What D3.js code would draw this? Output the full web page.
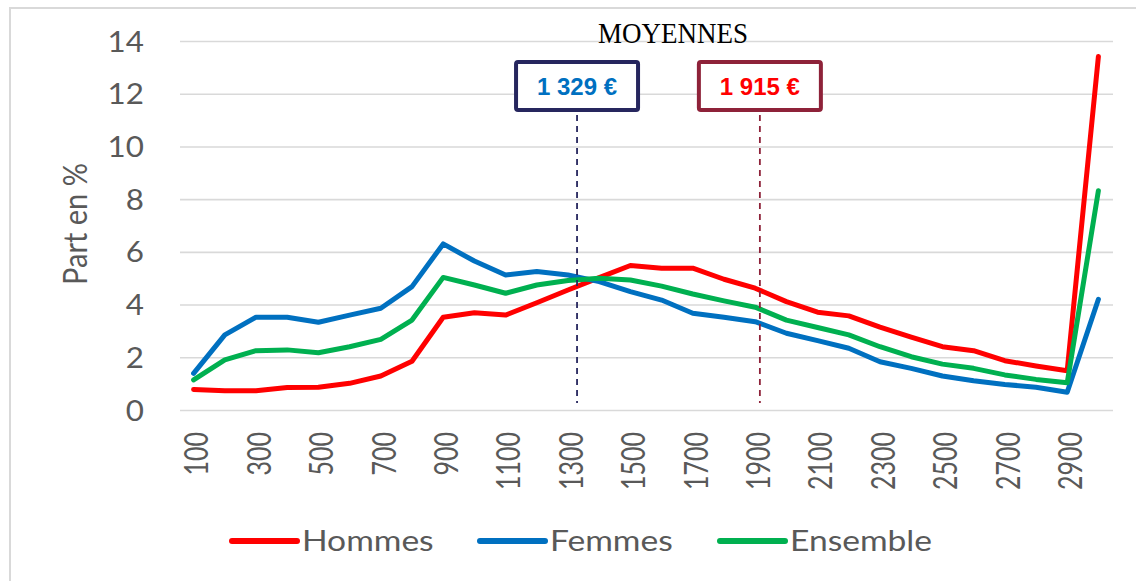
<!DOCTYPE html>
<html>
<head>
<meta charset="utf-8">
<script src="https://cdn.jsdelivr.net/npm/d3@7"></script>
<style>
  body { margin: 0; background: #fff; }
  svg { display: block; }
</style>
</head>
<body>
<svg width="1136" height="581"></svg>
<script>
// salary brackets (upper bound, in euros)
var categories = [100, 200, 300, 400, 500, 600, 700, 800, 900, 1000,
                  1100, 1200, 1300, 1400, 1500, 1600, 1700, 1800, 1900, 2000,
                  2100, 2200, 2300, 2400, 2500, 2600, 2700, 2800, 2900, 3000];

var hommes = [0.80, 0.75, 0.75, 0.87, 0.88, 1.03, 1.31, 1.87, 3.54, 3.71,
              3.62, 4.09, 4.57, 5.04, 5.50, 5.40, 5.40, 4.98, 4.64, 4.13,
              3.73, 3.59, 3.16, 2.78, 2.42, 2.27, 1.89, 1.69, 1.51, 13.43];

var femmes = [1.41, 2.87, 3.54, 3.54, 3.35, 3.62, 3.88, 4.70, 6.32, 5.67,
              5.14, 5.27, 5.14, 4.89, 4.51, 4.19, 3.69, 3.54, 3.37, 2.93,
              2.65, 2.36, 1.85, 1.60, 1.31, 1.13, 0.99, 0.88, 0.69, 4.22];

var ensemble = [1.16, 1.92, 2.27, 2.30, 2.19, 2.42, 2.70, 3.43, 5.05, 4.76,
                4.45, 4.76, 4.93, 5.02, 4.95, 4.72, 4.42, 4.16, 3.92, 3.43,
                3.15, 2.87, 2.42, 2.04, 1.76, 1.60, 1.35, 1.18, 1.05, 8.34];

var seriesNames = ["Hommes", "Femmes", "Ensemble"];
var seriesColors = ["#ff0000", "#0070c0", "#00b050"];

var yTicks = [0, 2, 4, 6, 8, 10, 12, 14];
var xTickLabels = [100, 300, 500, 700, 900, 1100, 1300, 1500, 1700, 1900,
                   2100, 2300, 2500, 2700, 2900];

// averages shown in the boxes
var moyennes = [1329, 1915];
var moyenneLabels = ["1 329 €", "1 915 €"];
var moyenneText = ["#0070c0", "#ff0000"];
var moyenneBorder = ["#26265e", "#8e2239"];

var svg = d3.select("svg"),
    width = +svg.attr("width"),
    height = +svg.attr("height");

var sansFont = "Lato, 'Open Sans', sans-serif";
var stretch = 1.12;   // the original text looks slightly wide

// outer frame
svg.append("rect")
    .attr("x", 10).attr("y", 8)
    .attr("width", width).attr("height", height)
    .attr("fill", "none")
    .attr("stroke", "#d9d9d9")
    .attr("stroke-width", 2);

var x = d3.scalePoint()
    .domain(categories)
    .range([178, 1114])
    .padding(0.5);

var y = d3.scaleLinear()
    .domain([0, 14])
    .range([410.5, 41.5]);

// value -> position along the category axis (for the average markers)
var xValue = d3.scaleLinear()
    .domain([categories[0], categories[categories.length - 1]])
    .range([x(categories[0]), x(categories[categories.length - 1])]);

//gridlines
svg.append("g")
    .attr("class", "grid")
    .selectAll("line")
    .data(yTicks)
    .enter().append("line")
    .attr("x1", 180)
    .attr("x2", 1113)
    .attr("y1", function(d) { return y(d); })
    .attr("y2", function(d) { return y(d); })
    .attr("stroke", "#d9d9d9")
    .attr("stroke-width", 1.6);

//y tick labels
svg.append("g")
    .attr("class", "y-labels")
    .selectAll("text")
    .data(yTicks)
    .enter().append("text")
    .attr("transform", function(d) { return "translate(144," + y(d) + ") scale(" + stretch + ",1)"; })
    .attr("dy", "0.36em")
    .attr("text-anchor", "end")
    .style("font-family", sansFont)
    .style("font-size", "28px")
    .style("fill", "#595959")
    .text(function(d) { return d; });

//x tick labels, rotated
svg.append("g")
    .attr("class", "x-labels")
    .selectAll("text")
    .data(xTickLabels)
    .enter().append("text")
    .attr("transform", function(d) { return "translate(" + (x(d) + 3) + ",432) scale(1.3,1) rotate(-90)"; })
    .attr("dy", "0.36em")
    .attr("text-anchor", "end")
    .style("font-family", sansFont)
    .style("font-size", "25px")
    .style("fill", "#595959")
    .text(function(d) { return d; });

//y axis title
svg.append("text")
    .attr("transform", "translate(75,224) scale(1.15,1) rotate(-90)")
    .attr("dy", "0.36em")
    .attr("text-anchor", "middle")
    .style("font-family", sansFont)
    .style("font-size", "29px")
    .style("fill", "#595959")
    .text("Part en %");

//series lines
var series = [hommes, femmes, ensemble];
var line = d3.line()
    .x(function(d, i) { return x(categories[i]); })
    .y(function(d) { return y(d); });

svg.append("g")
    .attr("class", "series")
    .selectAll("path")
    .data(series)
    .enter().append("path")
    .attr("d", line)
    .attr("fill", "none")
    .attr("stroke", function(d, i) { return seriesColors[i]; })
    .attr("stroke-width", 5)
    .attr("stroke-linejoin", "round")
    .attr("stroke-linecap", "round");

//average markers: dashed line + boxed value
var marks = svg.append("g")
    .attr("class", "moyennes")
    .selectAll("g")
    .data(moyennes)
    .enter().append("g");

marks.append("line")
    .attr("x1", function(d) { return xValue(d); })
    .attr("x2", function(d) { return xValue(d); })
    .attr("y1", 115)
    .attr("y2", 403)
    .attr("stroke", function(d, i) { return moyenneBorder[i]; })
    .attr("stroke-width", 1.8)
    .attr("stroke-dasharray", "6,5");

marks.append("rect")
    .attr("x", function(d) { return xValue(d) - 61; })
    .attr("y", 62)
    .attr("width", 122)
    .attr("height", 48)
    .attr("rx", 2)
    .attr("fill", "#fff")
    .attr("stroke", function(d, i) { return moyenneBorder[i]; })
    .attr("stroke-width", 4);

marks.append("text")
    .attr("x", function(d) { return xValue(d); })
    .attr("y", 95)
    .attr("text-anchor", "middle")
    .style("font-family", "'Liberation Sans', Arial, sans-serif")
    .style("font-weight", "bold")
    .style("font-size", "24px")
    .style("fill", function(d, i) { return moyenneText[i]; })
    .text(function(d, i) { return moyenneLabels[i]; });

svg.append("text")
    .attr("transform", "translate(673,43) scale(0.9,1)")
    .attr("text-anchor", "middle")
    .style("font-family", "'Liberation Serif', 'Times New Roman', serif")
    .style("font-size", "30px")
    .style("fill", "#000")
    .text("MOYENNES");

//legend
var legendX = [232, 480, 720];
var legend = svg.append("g")
    .attr("class", "legend")
    .selectAll("g")
    .data(seriesNames)
    .enter().append("g")
    .attr("transform", function(d, i) { return "translate(" + legendX[i] + ",541)"; });

legend.append("line")
    .attr("x1", 0).attr("x2", 65)
    .attr("y1", 0).attr("y2", 0)
    .attr("stroke", function(d, i) { return seriesColors[i]; })
    .attr("stroke-width", 6)
    .attr("stroke-linecap", "round");

legend.append("text")
    .attr("transform", "translate(70,0) scale(1.2,1)")
    .attr("dy", "0.36em")
    .style("font-family", sansFont)
    .style("font-size", "28px")
    .style("fill", "#595959")
    .text(function(d) { return d; });
</script>
</body>
</html>
